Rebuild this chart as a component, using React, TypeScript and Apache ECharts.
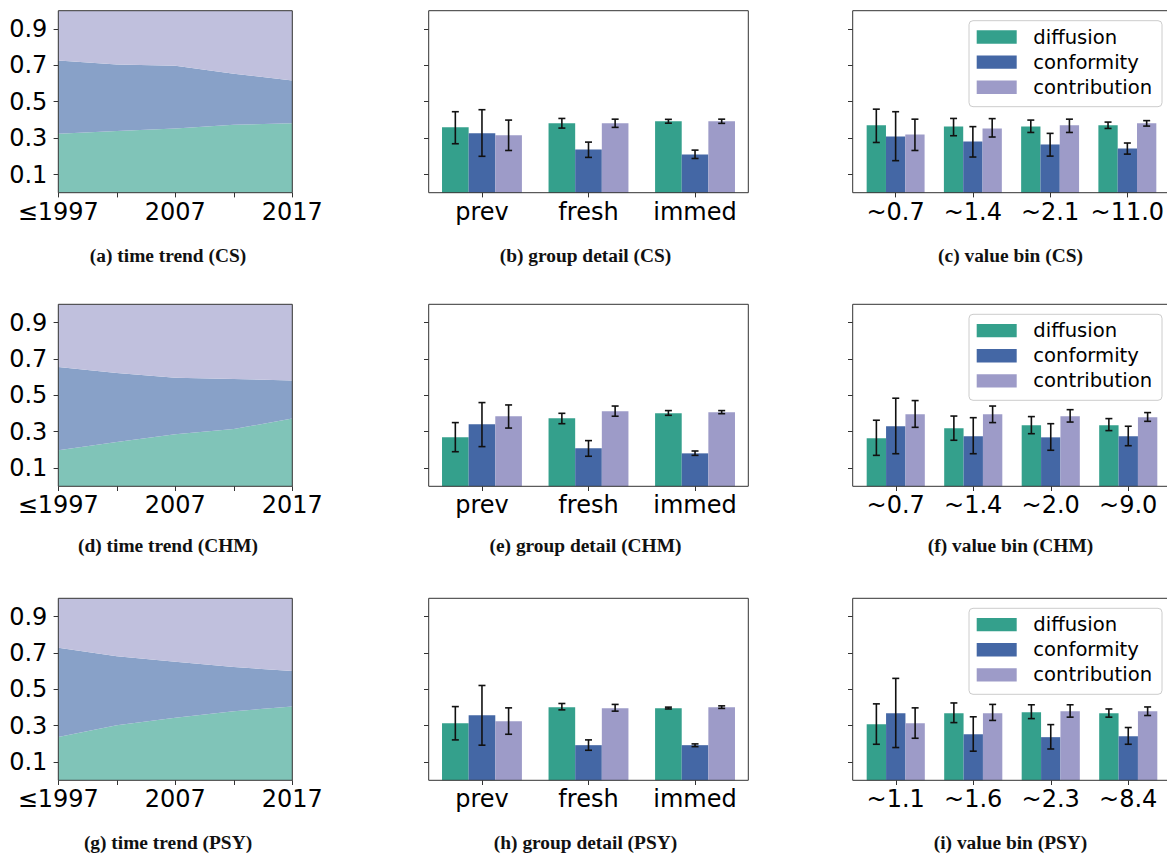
import React, { useEffect, useRef } from "react";
import * as echarts from "echarts";

// ---------- data ----------
const years = ["≤1997", "2002", "2007", "2012", "2017"];
const groupCats = ["prev", "fresh", "immed"];
const binCatsCS = ["~0.7", "~1.4", "~2.1", "~11.0"];
const binCatsCHM = ["~0.7", "~1.4", "~2.0", "~9.0"];
const binCatsPSY = ["~1.1", "~1.6", "~2.3", "~8.4"];
const yTicks = [0.1, 0.3, 0.5, 0.7, 0.9];
const metricNames = ["diffusion", "conformity", "contribution"];
const captions = [
  "(a) time trend (CS)", "(b) group detail (CS)", "(c) value bin (CS)",
  "(d) time trend (CHM)", "(e) group detail (CHM)", "(f) value bin (CHM)",
  "(g) time trend (PSY)", "(h) group detail (PSY)", "(i) value bin (PSY)",
];

// time trend shares
const csTrendDiffusion = [0.324, 0.339, 0.353, 0.374, 0.381];
const csTrendConformity = [0.403, 0.366, 0.345, 0.28, 0.236];
const csTrendContribution = [0.273, 0.295, 0.302, 0.346, 0.383];
const chmTrendDiffusion = [0.198, 0.243, 0.286, 0.315, 0.372];
const chmTrendConformity = [0.457, 0.38, 0.311, 0.275, 0.21];
const chmTrendContribution = [0.345, 0.377, 0.403, 0.41, 0.418];
const psyTrendDiffusion = [0.238, 0.303, 0.343, 0.38, 0.405];
const psyTrendConformity = [0.49, 0.378, 0.308, 0.242, 0.195];
const psyTrendContribution = [0.272, 0.319, 0.349, 0.378, 0.4];

// bars: [value, errLow, errHigh]
const csGroupDiffusion = [[0.359, 0.269, 0.445], [0.381, 0.355, 0.408], [0.392, 0.382, 0.403]];
const csGroupConformity = [[0.326, 0.2, 0.456], [0.238, 0.194, 0.278], [0.21, 0.188, 0.234]];
const csGroupContribution = [[0.315, 0.232, 0.399], [0.381, 0.359, 0.404], [0.392, 0.381, 0.404]];
const csBinDiffusion = [[0.37, 0.276, 0.459], [0.364, 0.313, 0.408], [0.364, 0.331, 0.399], [0.37, 0.353, 0.388]];
const csBinConformity = [[0.309, 0.176, 0.445], [0.282, 0.196, 0.363], [0.265, 0.201, 0.326], [0.243, 0.212, 0.273]];
const csBinContribution = [[0.32, 0.232, 0.404], [0.353, 0.306, 0.407], [0.37, 0.331, 0.404], [0.381, 0.366, 0.396]];

const chmGroupDiffusion = [[0.269, 0.19, 0.35], [0.374, 0.344, 0.401], [0.401, 0.39, 0.416]];
const chmGroupConformity = [[0.341, 0.218, 0.46], [0.209, 0.165, 0.251], [0.181, 0.17, 0.194]];
const chmGroupContribution = [[0.385, 0.32, 0.447], [0.412, 0.385, 0.441], [0.407, 0.399, 0.416]];
const chmBinDiffusion = [[0.264, 0.17, 0.363], [0.319, 0.253, 0.386], [0.335, 0.289, 0.383], [0.335, 0.306, 0.372]];
const chmBinConformity = [[0.33, 0.179, 0.484], [0.275, 0.179, 0.377], [0.269, 0.198, 0.344], [0.275, 0.223, 0.33]];
const chmBinContribution = [[0.396, 0.324, 0.471], [0.396, 0.35, 0.441], [0.385, 0.353, 0.421], [0.379, 0.357, 0.405]];

const psyGroupDiffusion = [[0.314, 0.222, 0.405], [0.402, 0.387, 0.422], [0.396, 0.392, 0.402]];
const psyGroupConformity = [[0.358, 0.193, 0.521], [0.193, 0.165, 0.222], [0.193, 0.185, 0.2]];
const psyGroupContribution = [[0.325, 0.253, 0.398], [0.396, 0.38, 0.417], [0.402, 0.395, 0.409]];
const psyBinDiffusion = [[0.308, 0.198, 0.42], [0.369, 0.317, 0.425], [0.374, 0.339, 0.415], [0.369, 0.347, 0.392]];
const psyBinConformity = [[0.369, 0.18, 0.56], [0.253, 0.16, 0.349], [0.237, 0.172, 0.306], [0.242, 0.198, 0.29]];
const psyBinContribution = [[0.314, 0.231, 0.398], [0.369, 0.329, 0.417], [0.38, 0.347, 0.415], [0.38, 0.356, 0.403]];

// ---------- styles ----------
const barColors = ["#34a08c", "#4467a5", "#9d9bc8"];
const areaColors = ["#80c4b8", "#88a1c8", "#c0c0dd"];
const frameColor = "#333333";
const tickFont = "DejaVu Sans";

const rowTop = [10.7, 304.3, 598.3];
const rowH = 182;
const colLeft = [58.3, 428.7, 857];
const colW = [234, 319.6, 310];
const frameLeft = [58.3, 428.7, 852.7];
const frameW = [234, 319.6, 320];
const captionX = [168, 585.5, 1010.5];
const captionY = [255, 545, 842];

const trendData = [
  [csTrendDiffusion, csTrendConformity, csTrendContribution],
  [chmTrendDiffusion, chmTrendConformity, chmTrendContribution],
  [psyTrendDiffusion, psyTrendConformity, psyTrendContribution],
];
const groupData = [
  [csGroupDiffusion, csGroupConformity, csGroupContribution],
  [chmGroupDiffusion, chmGroupConformity, chmGroupContribution],
  [psyGroupDiffusion, psyGroupConformity, psyGroupContribution],
];
const binData = [
  [csBinDiffusion, csBinConformity, csBinContribution],
  [chmBinDiffusion, chmBinConformity, chmBinContribution],
  [psyBinDiffusion, psyBinConformity, psyBinContribution],
];
const binCats = [binCatsCS, binCatsCHM, binCatsPSY];

function buildOption() {
  const grid: any[] = [];
  const xAxis: any[] = [];
  const yAxis: any[] = [];
  const series: any[] = [];
  const graphic: any[] = [];

  for (let r = 0; r < 3; r++) {
    for (let c = 0; c < 3; c++) {
      const g = r * 3 + c;
      grid.push({ left: colLeft[c], top: rowTop[r], width: colW[c], height: rowH, show: false });
      const isTrend = c === 0;
      const cats = c === 0 ? years : c === 1 ? groupCats : binCats[r];
      xAxis.push({
        type: "category",
        gridIndex: g,
        data: cats,
        boundaryGap: !isTrend,
        axisLine: { show: false },
        axisTick: {
          show: true,
          length: 4.7,
          interval: 0,
          alignWithLabel: true,
          lineStyle: { color: frameColor, width: 1 },
        },
        axisLabel: {
          interval: isTrend ? 1 : 0,
          fontSize: 24,
          fontFamily: tickFont,
          color: "#000",
          margin: 7,
        },
        splitLine: { show: false },
      });
      yAxis.push({
        type: "value",
        gridIndex: g,
        min: 0,
        max: 1,
        offset: c === 2 ? 4.3 : 0,
        axisLine: { show: false },
        splitLine: { show: false },
        axisTick: {
          show: true,
          length: 4.7,
          customValues: yTicks,
          lineStyle: { color: frameColor, width: 1 },
        },
        axisLabel: {
          show: isTrend,
          customValues: yTicks,
          formatter: (v: number) => v.toFixed(1),
          fontSize: 24,
          fontFamily: tickFont,
          color: "#000",
          margin: 11,
        },
      });

      if (isTrend) {
        trendData[r].forEach((vals, s) => {
          series.push({
            name: metricNames[s],
            type: "line",
            xAxisIndex: g,
            yAxisIndex: g,
            stack: "trend" + g,
            data: vals,
            symbol: "none",
            lineStyle: { width: 0, opacity: 0 },
            areaStyle: { color: areaColors[s], opacity: 1 },
            z: 2,
          });
        });
      } else {
        const sets = c === 1 ? groupData[r] : binData[r];
        sets.forEach((rows, s) => {
          series.push({
            name: metricNames[s],
            type: "bar",
            xAxisIndex: g,
            yAxisIndex: g,
            data: rows.map((d) => d[0]),
            barGap: "0%",
            barCategoryGap: "25%",
            itemStyle: { color: barColors[s] },
            z: 2,
          });
        });
        sets.forEach((rows, s) => {
          series.push({
            type: "custom",
            xAxisIndex: g,
            yAxisIndex: g,
            data: rows.map((d, i) => [i, d[1], d[2]]),
            encode: { x: 0, y: [1, 2] },
            z: 5,
            silent: true,
            renderItem: (params: any, api: any) => {
              const lo = api.coord([api.value(0), api.value(1)]);
              const hi = api.coord([api.value(0), api.value(2)]);
              const band = api.size([1, 0])[0];
              const bw = (band * 0.75) / 3;
              const x = lo[0] + (s - 1) * bw;
              const cap = 3.5;
              const style = { stroke: "#111", lineWidth: 1.6 };
              return {
                type: "group",
                children: [
                  { type: "line", shape: { x1: x, y1: lo[1], x2: x, y2: hi[1] }, style },
                  { type: "line", shape: { x1: x - cap, y1: lo[1], x2: x + cap, y2: lo[1] }, style },
                  { type: "line", shape: { x1: x - cap, y1: hi[1], x2: x + cap, y2: hi[1] }, style },
                ],
              };
            },
          });
        });
      }

      // frame
      graphic.push({
        type: "rect",
        shape: { x: frameLeft[c], y: rowTop[r], width: frameW[c], height: rowH },
        style: { fill: "none", stroke: frameColor, lineWidth: 1 },
        z: 100,
        silent: true,
      });
      // caption
      graphic.push({
        type: "text",
        x: captionX[c],
        y: captionY[r],
        style: {
          text: captions[g],
          font: "bold 19.4px 'Liberation Serif', serif",
          fill: "#111",
          align: "center",
          verticalAlign: "middle",
        },
        z: 100,
      });

      if (c === 2) {
        const top = rowTop[r];
        graphic.push({
          type: "rect",
          shape: { x: 969, y: top + 10, width: 193, height: 86, r: 4 },
          style: { fill: "rgba(255,255,255,0.85)", stroke: "#cccccc", lineWidth: 1 },
          z: 110,
        });
        metricNames.forEach((nm, s) => {
          const cy = top + 26.3 + s * 25.15;
          graphic.push({
            type: "rect",
            shape: { x: 976.7, y: cy - 6.7, width: 40, height: 13.4 },
            style: { fill: barColors[s] },
            z: 111,
          });
          graphic.push({
            type: "text",
            x: 1033.3,
            y: cy,
            style: {
              text: nm,
              font: "19.6px 'DejaVu Sans'",
              fill: "#000",
              align: "left",
              verticalAlign: "middle",
            },
            z: 111,
          });
        });
      }
    }
  }

  return {
    animation: false,
    backgroundColor: "#ffffff",
    grid,
    xAxis,
    yAxis,
    series,
    graphic,
  };
}

export default function App() {
  const ref = useRef<HTMLDivElement>(null);
  useEffect(() => {
    if (!ref.current) return;
    const chart = echarts.init(ref.current, undefined, { renderer: "svg" });
    chart.setOption(buildOption() as any);
    return () => chart.dispose();
  }, []);
  return (
    <div
      ref={ref}
      style={{ position: "absolute", left: 0, top: 0, width: 1167, height: 855, background: "#fff" }}
    />
  );
}
